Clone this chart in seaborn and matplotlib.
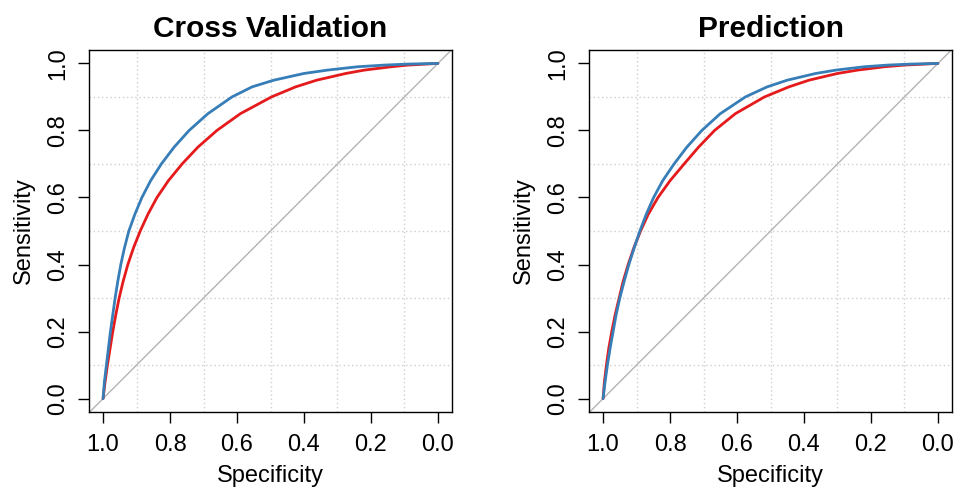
import numpy as np
import pandas as pd
import matplotlib
matplotlib.use("Agg")
import matplotlib.pyplot as plt
import seaborn as sns

# ROC curves: sensitivity levels and the matching false-positive rate (1 - specificity)
cv_red_sens = [0.0, 0.05, 0.1, 0.15, 0.2, 0.25, 0.3, 0.35, 0.4, 0.45, 0.5, 0.55, 0.6, 0.65,
               0.7, 0.75, 0.8, 0.85, 0.9, 0.93, 0.95, 0.97, 0.98, 0.99, 0.995, 1.0]
cv_red_fpr = [0.0, 0.006, 0.013, 0.021, 0.029, 0.038, 0.048, 0.060, 0.074, 0.091, 0.111, 0.134, 0.161, 0.195,
              0.236, 0.283, 0.340, 0.410, 0.503, 0.575, 0.638, 0.725, 0.78, 0.86, 0.91, 1.0]

cv_blue_sens = [0.0, 0.05, 0.1, 0.15, 0.2, 0.25, 0.3, 0.35, 0.4, 0.45, 0.5, 0.55, 0.6, 0.65,
                0.7, 0.75, 0.8, 0.85, 0.9, 0.93, 0.95, 0.97, 0.98, 0.99, 0.995, 0.998, 1.0]
cv_blue_fpr = [0.0, 0.004, 0.010, 0.016, 0.022, 0.029, 0.036, 0.044, 0.053, 0.064, 0.077, 0.095, 0.116, 0.142,
               0.174, 0.212, 0.257, 0.313, 0.385, 0.445, 0.51, 0.60, 0.67, 0.76, 0.84, 0.91, 1.0]

pr_red_sens = [0.0, 0.05, 0.1, 0.15, 0.2, 0.25, 0.3, 0.35, 0.4, 0.45, 0.5, 0.55, 0.6, 0.65,
               0.7, 0.75, 0.8, 0.85, 0.9, 0.93, 0.95, 0.97, 0.98, 0.99, 0.995, 1.0]
pr_red_fpr = [0.0, 0.004, 0.010, 0.017, 0.026, 0.036, 0.048, 0.060, 0.075, 0.092, 0.112, 0.135, 0.164, 0.200,
              0.242, 0.285, 0.333, 0.395, 0.482, 0.555, 0.615, 0.70, 0.76, 0.84, 0.90, 1.0]

pr_blue_sens = [0.0, 0.05, 0.1, 0.15, 0.2, 0.25, 0.3, 0.35, 0.4, 0.45, 0.5, 0.55, 0.6, 0.65,
                0.7, 0.75, 0.8, 0.85, 0.9, 0.93, 0.95, 0.97, 0.98, 0.99, 0.995, 0.998, 1.0]
pr_blue_fpr = [0.0, 0.006, 0.013, 0.021, 0.030, 0.039, 0.050, 0.063, 0.077, 0.093, 0.110, 0.129, 0.151, 0.178,
               0.212, 0.250, 0.295, 0.350, 0.425, 0.49, 0.55, 0.635, 0.695, 0.78, 0.85, 0.92, 1.0]

panel_titles = ["Cross Validation", "Prediction"]
tick_values = [0.0, 0.2, 0.4, 0.6, 0.8, 1.0]
tick_labels = ["0.0", "0.2", "0.4", "0.6", "0.8", "1.0"]

RED = "#E41A1C"
BLUE = "#377EB8"


def curve_frame(panel, model, sens, fpr):
    return pd.DataFrame({
        "panel": panel,
        "model": model,
        "Specificity": 1.0 - np.asarray(fpr),
        "Sensitivity": np.asarray(sens),
    })


df = pd.concat([
    curve_frame(panel_titles[0], "red", cv_red_sens, cv_red_fpr),
    curve_frame(panel_titles[0], "blue", cv_blue_sens, cv_blue_fpr),
    curve_frame(panel_titles[1], "red", pr_red_sens, pr_red_fpr),
    curve_frame(panel_titles[1], "blue", pr_blue_sens, pr_blue_fpr),
], ignore_index=True)

sns.set_theme(style="white")
plt.rcParams["font.family"] = ["Liberation Sans", "DejaVu Sans"]

fig = plt.figure(figsize=(9.55, 4.88), dpi=100)
axes = [
    fig.add_axes([89 / 955, 76 / 488, 363 / 955, 362 / 488]),
    fig.add_axes([589 / 955, 76 / 488, 363 / 955, 362 / 488]),
]

grid_pos = np.round(np.arange(0, 1.01, 0.1), 2)

for ax, title in zip(axes, panel_titles):
    sub = df[df["panel"] == title]
    # chance diagonal
    ax.axline((1.0, 0.0), (0.0, 1.0), color="#B4B4B4", lw=1.0, zorder=1)
    sns.lineplot(data=sub, x="Specificity", y="Sensitivity", hue="model",
                 palette={"red": RED, "blue": BLUE}, hue_order=["red", "blue"],
                 sort=False, estimator=None, lw=2.0, legend=False, ax=ax, zorder=3)

    ax.set_xlim(1.042, -0.042)
    ax.set_ylim(-0.04, 1.04)

    ax.set_xticks(tick_values)
    ax.set_xticklabels(tick_labels)
    ax.set_yticks(tick_values)
    ax.set_yticklabels(tick_labels, rotation=90, va="center")
    ax.set_xticks(grid_pos, minor=True)
    ax.set_yticks(grid_pos, minor=True)
    ax.grid(False)
    ax.grid(True, which="minor", color="#CFCFCF", linestyle=(0, (1.0, 2.0)), lw=1.0, zorder=0)

    ax.tick_params(axis="both", which="major", direction="out", length=7.9, width=1.0,
                   color="black", labelsize=17, labelcolor="black",
                   bottom=True, left=True, top=False, right=False)
    ax.tick_params(axis="x", which="major", pad=8.0)
    ax.tick_params(axis="y", which="major", pad=6.5)
    ax.tick_params(axis="both", which="minor", length=0)

    for side in ["left", "right", "top", "bottom"]:
        ax.spines[side].set_visible(True)
        ax.spines[side].set_color("black")
        ax.spines[side].set_linewidth(1.0)

    ax.set_xlabel("Specificity", fontsize=17, color="black", labelpad=6.5)
    ax.set_ylabel("Sensitivity", fontsize=17, color="black", labelpad=9.0)
    ax.set_title(title, fontsize=21.5, fontweight="bold", color="black", pad=9.4)
    ax.set_facecolor("white")

fig.savefig("out.png", dpi=100, facecolor="white")
